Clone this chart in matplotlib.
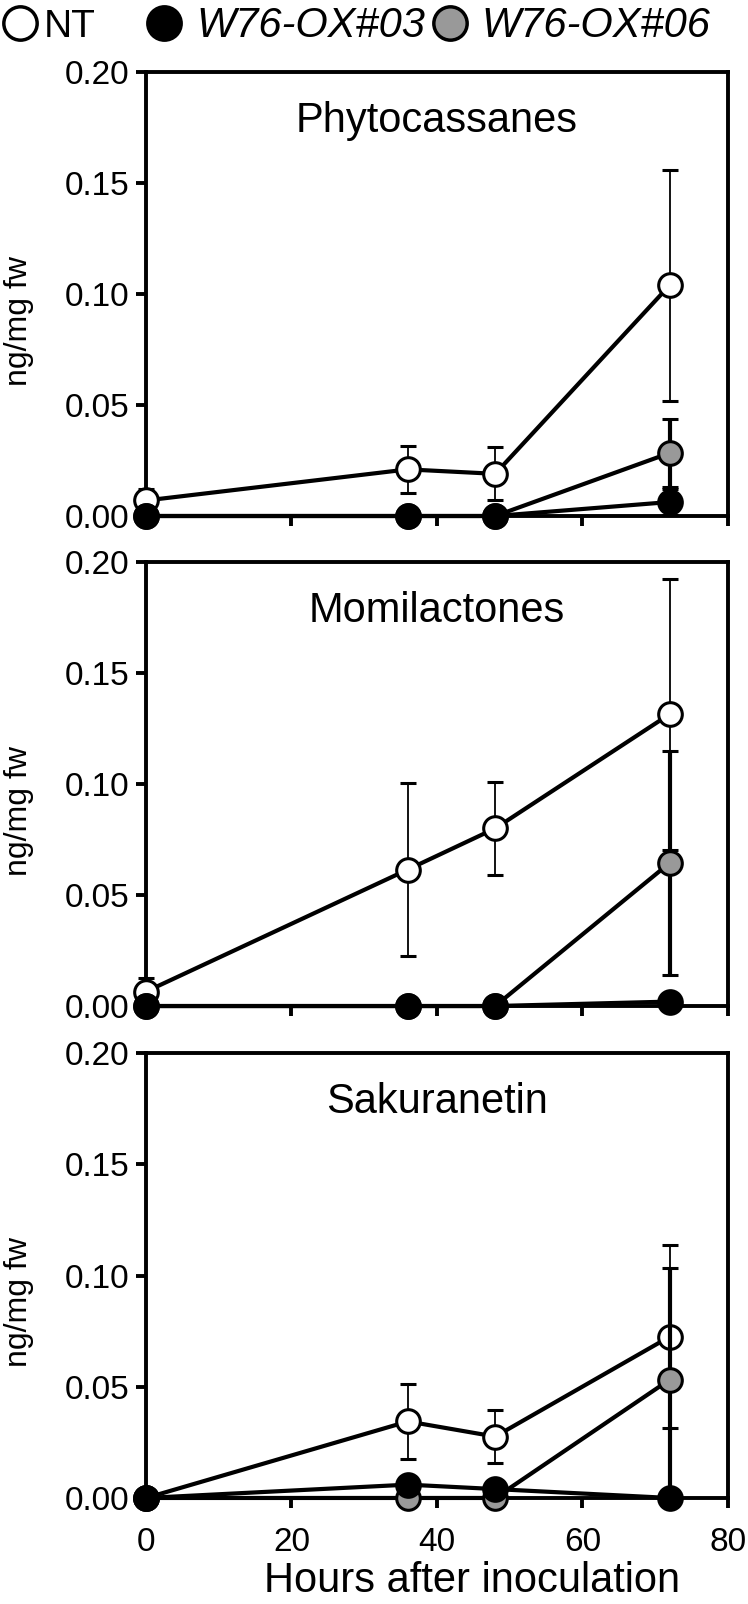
import numpy as np
import matplotlib.pyplot as plt
from matplotlib.lines import Line2D
from matplotlib.ticker import FormatStrFormatter

plt.rcParams['font.family'] = ['Liberation Sans', 'DejaVu Sans']

hours = [0, 36, 48, 72]
titles = ['Phytocassanes', 'Momilactones', 'Sakuranetin']
series_names = ['NT', 'W76-OX#03', 'W76-OX#06']

# means and SD (ng/mg fw)
nt_mean = [[0.007, 0.021, 0.019, 0.104],
           [0.0065, 0.0615, 0.080, 0.1315],
           [0.0, 0.0344, 0.0276, 0.0725]]
nt_sd = [[0.005, 0.0105, 0.012, 0.052],
         [0.006, 0.039, 0.021, 0.061],
         [0.0, 0.0168, 0.012, 0.041]]
ox03_mean = [[0.0, 0.0, 0.0, 0.0063],
             [0.0, 0.0, 0.0, 0.002],
             [0.0, 0.006, 0.004, 0.0]]
ox03_sd = [[0.0, 0.0, 0.0, 0.006],
           [0.0, 0.0, 0.0, 0.002],
           [0.0, 0.0, 0.0, 0.0]]
ox06_mean = [[0.0, 0.0, 0.0, 0.0284],
             [0.0, 0.0, 0.0, 0.0645],
             [0.0, 0.0, 0.0, 0.0532]]
ox06_sd = [[0.0, 0.0, 0.0, 0.0153],
           [0.0, 0.0, 0.0, 0.0505],
           [0.0, 0.0, 0.0, 0.0503]]

yticks = [0.0, 0.05, 0.10, 0.15, 0.20]
xticks = [0, 20, 40, 60, 80]

W, H = 748, 1604
fig = plt.figure(figsize=(W / 100, H / 100), dpi=100)

# panel boxes (left, bottom, width, height) in figure fractions
boxes = [[0.1952, 0.6783, 0.778, 0.2768],
         [0.1952, 0.3728, 0.778, 0.2768],
         [0.1952, 0.0661, 0.778, 0.2774]]

ms = 17
mew = 2.2
lw = 3

for i in range(3):
    ax = fig.add_axes(boxes[i])

    # NT: open circles, thin error bars
    ax.errorbar(hours, nt_mean[i], yerr=nt_sd[i], fmt='-o', color='black',
                mfc='white', mec='black', ms=ms, mew=mew, lw=lw,
                elinewidth=1.3, capsize=6, capthick=1.3,
                clip_on=False, zorder=3)
    # W76-OX#06: grey circles, thick error bars
    ax.errorbar(hours, ox06_mean[i], yerr=ox06_sd[i], fmt='-o', color='black',
                mfc='#999999', mec='black', ms=ms, mew=mew, lw=lw,
                elinewidth=3, capsize=6, capthick=3,
                clip_on=False, zorder=4)
    # W76-OX#03: black circles
    ax.errorbar(hours, ox03_mean[i], yerr=ox03_sd[i], fmt='-o', color='black',
                mfc='black', mec='black', ms=ms, mew=mew, lw=lw,
                elinewidth=3, capsize=6, capthick=3,
                clip_on=False, zorder=5)

    ax.set_xlim(0, 80)
    ax.set_ylim(0, 0.2)
    ax.set_yticks(yticks)
    ax.set_xticks(xticks)
    ax.yaxis.set_major_formatter(FormatStrFormatter('%.2f'))
    for s in ax.spines.values():
        s.set_linewidth(2.8)
    ax.tick_params(direction='out', length=7, width=2.8, labelsize=24)
    ax.tick_params(axis='y', pad=5)
    ax.tick_params(axis='x', pad=14)
    if i < 2:
        ax.tick_params(axis='x', labelbottom=False)
    else:
        ax.set_xlabel('Hours after inoculation', fontsize=30)
        ax.xaxis.set_label_coords(0.56, -0.187)
        ax.xaxis.label.set_va('center')

    ax.set_ylabel('ng/mg fw', fontsize=23)
    ax.yaxis.set_label_coords(-0.192, 0.44)

    ax.text(0.5, 0.865, titles[i], transform=ax.transAxes, ha='center',
            va='baseline', fontsize=30)

# legend row at the top, placed by hand
leg_x = [19.5, 164, 450]
txt_x = [44, 196, 481]
txt_size = [28, 30, 30]
fills = ['white', 'black', '#999999']
for k in range(3):
    fig.add_artist(Line2D([leg_x[k] / W], [1 - 22.5 / H], transform=fig.transFigure,
                          marker='o', ls='none', mfc=fills[k], mec='black',
                          ms=24, mew=2.5))
    fig.text(txt_x[k] / W, 1 - 37 / H, series_names[k], fontsize=txt_size[k],
             ha='left', va='baseline', style='normal' if k == 0 else 'italic')

fig.savefig('out.png', dpi=100)
